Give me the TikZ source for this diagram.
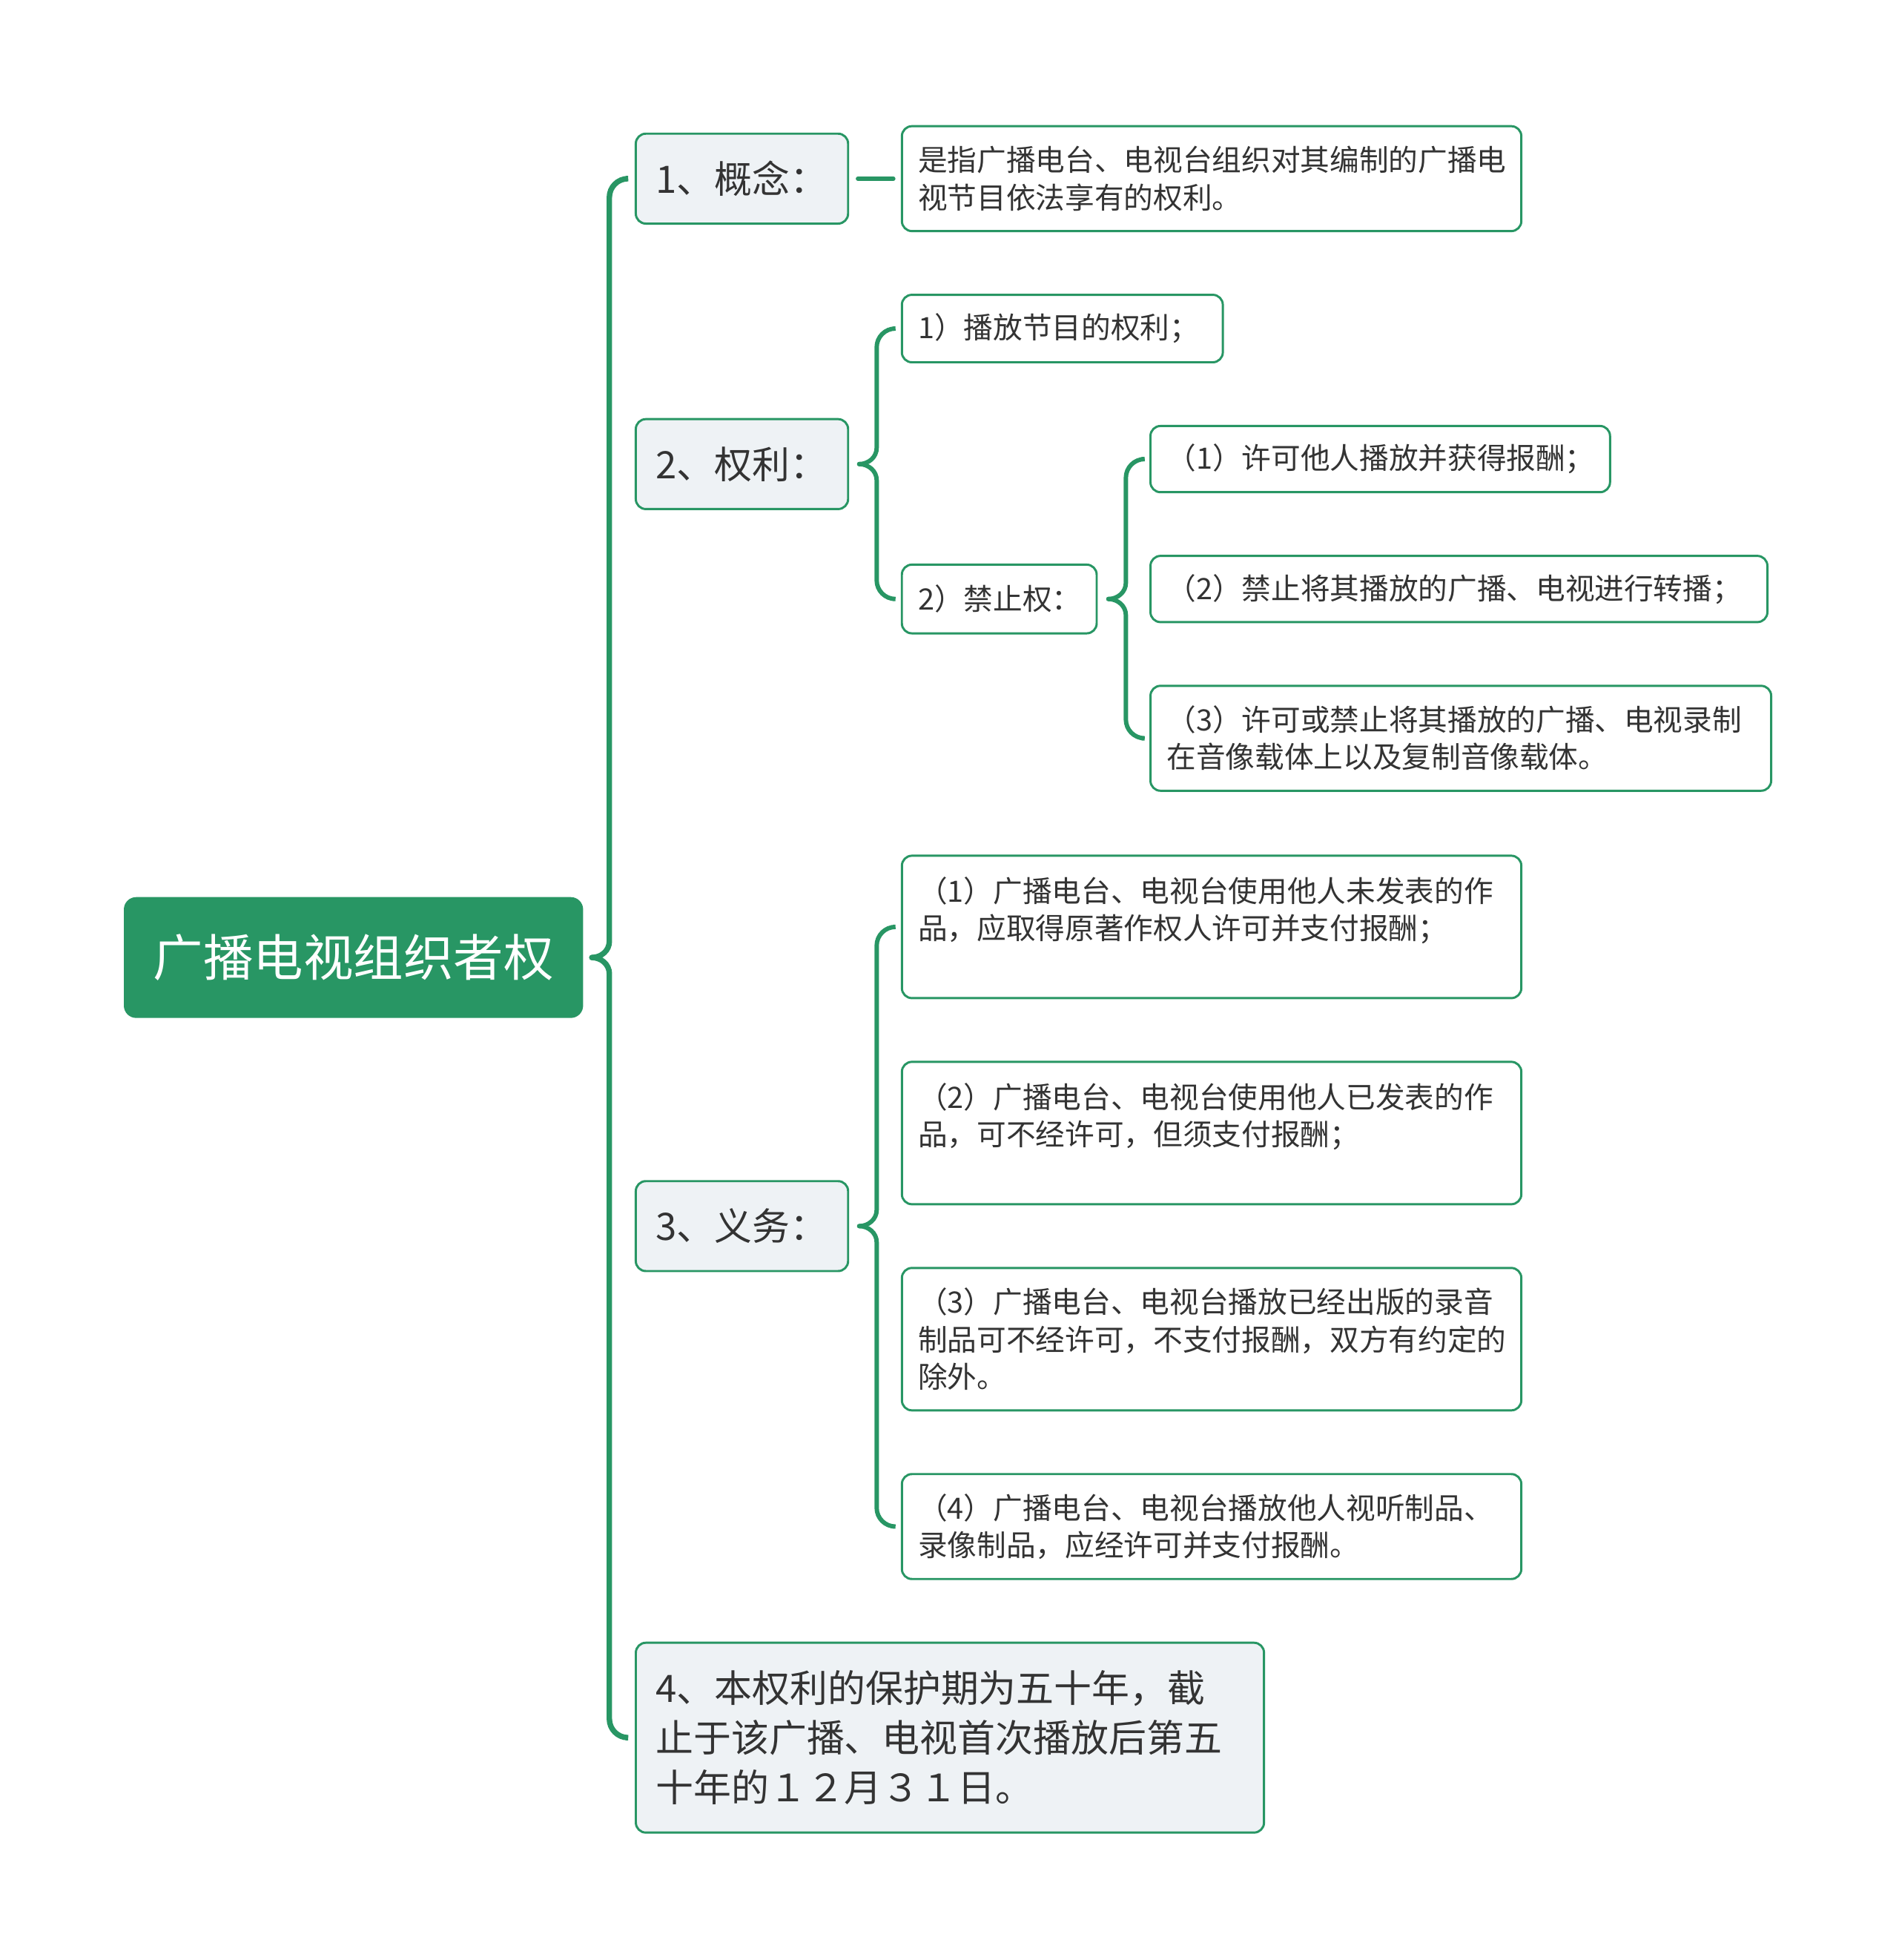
\documentclass[tikz,border=0pt]{standalone}
\usepackage{fontspec}
\setmainfont{Noto Sans CJK SC}
\usepackage{xcolor}
\usepackage{tikz}
\usetikzlibrary{calc}
\definecolor{mapgreen}{HTML}{289664}
\definecolor{topicfill}{HTML}{EEF2F5}
\definecolor{maptext}{HTML}{333333}
\tikzset{
  rootbox/.style={draw=mapgreen, fill=mapgreen, text=white, rounded corners=0.18cm, line width=1pt,
    minimum width=7.32cm, minimum height=1.9cm, inner sep=0pt, font=\fontsize{22.8}{28}\selectfont},
  topicbox/.style={draw=mapgreen, fill=topicfill, text=maptext, rounded corners=0.16cm, line width=1pt,
    align=left, inner xsep=0.32cm, inner ysep=0pt, font=\fontsize{17.2}{22.7}\selectfont},
  leafbox/.style={draw=mapgreen, fill=white, text=maptext, rounded corners=0.16cm, line width=1pt,
    align=left, inner xsep=0.26cm, inner ysep=0pt, font=\fontsize{13.4}{17}\selectfont},
  brace/.style={draw=mapgreen, line width=2pt, line cap=round},
  mainbrace/.style={brace, line width=2.5pt}
}

\begin{document}
\begin{tikzpicture}[x=0.02cm, y=-0.02cm]
\useasboundingbox (0,0) rectangle (1520,1569);

\node[rootbox] (root) at (283,766.5) {广播电视组织者权};

\node[topicbox, text width=2.76cm, minimum height=1.44cm] (concept) at (594,143) {1、概念：};
\node[topicbox, text width=2.76cm, minimum height=1.44cm] (rights) at (594,371.5) {2、权利：};
\node[topicbox, text width=2.76cm, minimum height=1.44cm] (duties) at (594,981.5) {3、义务：};
\node[topicbox, text width=9.42cm, minimum height=3.04cm] (term) at (760.5,1391)
  {4、本权利的保护期为五十年，截\\止于该广播、电视首次播放后第五\\十年的１２月３１日。};

\node[leafbox, text width=9.4cm, minimum height=1.68cm] (define) at (970,143)
  {是指广播电台、电视台组织对其编制的广播电\\视节目依法享有的权利。};

\node[leafbox, text width=4.62cm, minimum height=1.08cm] (play) at (850.5,263) {1）播放节目的权利；};
\node[leafbox, text width=2.6cm, minimum height=1.1cm] (ban) at (800,479.5) {2）禁止权：};
\node[leafbox, text width=6.84cm, minimum height=1.06cm] (ban1) at (1105,367.5) {（1）许可他人播放并获得报酬；};
\node[leafbox, text width=9.36cm, minimum height=1.06cm] (ban2) at (1168,471.5) {（2）禁止将其播放的广播、电视进行转播；};
\node[leafbox, text width=9.42cm, minimum height=1.68cm] (ban3) at (1169.5,591)
  {（3）许可或禁止将其播放的广播、电视录制\\在音像载体上以及复制音像载体。};

\node[leafbox, text width=9.4cm, minimum height=2.28cm] (duty1) at (970,742)
  {（1）广播电台、电视台使用他人未发表的作\\品，应取得原著作权人许可并支付报酬；\\\mbox{}};
\node[leafbox, text width=9.4cm, minimum height=2.28cm] (duty2) at (970,907)
  {（2）广播电台、电视台使用他人已发表的作\\品，可不经许可，但须支付报酬；\\\mbox{}};
\node[leafbox, text width=9.4cm, minimum height=2.28cm] (duty3) at (970,1072)
  {（3）广播电台、电视台播放已经出版的录音\\制品可不经许可，不支付报酬，双方有约定的\\除外。};
\node[leafbox, text width=9.4cm, minimum height=1.68cm] (duty4) at (970,1222)
  {（4）广播电台、电视台播放他人视听制品、\\录像制品，应经许可并支付报酬。};

\coordinate (tip0) at ($(root.east)+(7,0)$);
\draw[mainbrace] (tip0) to[out=0,in=-90] ($(tip0)+(14,-13)$) [rounded corners=0.3cm] |- ($(concept.west)+(-7,0)$);
\draw[mainbrace] (tip0) to[out=0,in=90] ($(tip0)+(14,13)$) [rounded corners=0.3cm] |- ($(term.west)+(-7,0)$);

\draw[brace] ($(concept.east)+(7,0)$) -- ($(define.west)+(-6,0)$);

\coordinate (tip1) at ($(rights.east)+(8,0)$);
\draw[brace] (tip1) to[out=0,in=-90] ($(tip1)+(14,-13)$) [rounded corners=0.3cm] |- ($(play.west)+(-6,0)$);
\draw[brace] (tip1) to[out=0,in=90] ($(tip1)+(14,13)$) [rounded corners=0.3cm] |- ($(ban.west)+(-6,0)$);

\coordinate (tip2) at ($(ban.east)+(8.5,0)$);
\draw[brace] (tip2) to[out=0,in=-90] ($(tip2)+(14,-13)$) [rounded corners=0.3cm] |- ($(ban1.west)+(-6,0)$);
\draw[brace] (tip2) to[out=0,in=90] ($(tip2)+(14,13)$) [rounded corners=0.3cm] |- ($(ban3.west)+(-6,0)$);

\coordinate (tip3) at ($(duties.east)+(8,0)$);
\draw[brace] (tip3) to[out=0,in=-90] ($(tip3)+(14,-13)$) [rounded corners=0.3cm] |- ($(duty1.west)+(-6,0)$);
\draw[brace] (tip3) to[out=0,in=90] ($(tip3)+(14,13)$) [rounded corners=0.3cm] |- ($(duty4.west)+(-6,0)$);
\end{tikzpicture}
\end{document}
